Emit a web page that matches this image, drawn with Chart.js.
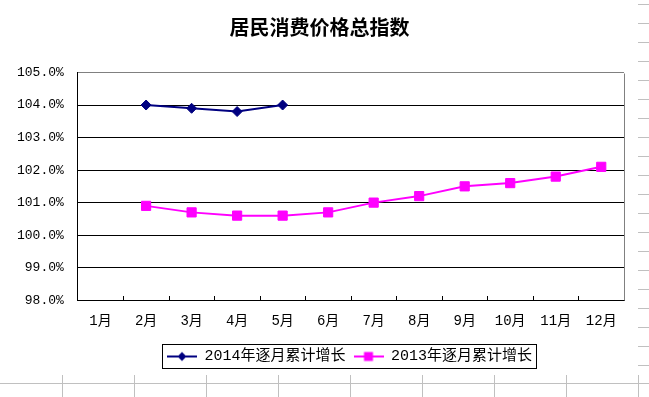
<!DOCTYPE html>
<html><head><meta charset="utf-8">
<script src="https://cdn.jsdelivr.net/npm/chart.js@4"></script>
<style>
html,body{margin:0;padding:0;background:#fff;}
#sheet{position:relative;width:649px;height:397px;overflow:hidden;background:#fff;}
.h{position:absolute;height:1px;background:#c0c0c0;}
.v{position:absolute;width:1px;background:#c0c0c0;}
#wrap{position:absolute;left:0;top:0;width:637px;height:375px;background:#fff;}
canvas{display:block;}
</style></head>
<body><div id="sheet"><div id="wrap"><canvas id="c" width="637" height="375"></canvas></div></div>
<script>
// ---- data ----
const titleText = '居民消费价格总指数';
const months = ['1月','2月','3月','4月','5月','6月','7月','8月','9月','10月','11月','12月'];
const label2014 = '2014年逐月累计增长';
const values2014 = [null, 104.0, 103.9, 103.8, 104.0, null, null, null, null, null, null, null];
const label2013 = '2013年逐月累计增长';
const values2013 = [null, 100.9, 100.7, 100.6, 100.6, 100.7, 101.0, 101.2, 101.5, 101.6, 101.8, 102.1];
const yMin = 98, yMax = 105, yStep = 1;

// ---- spreadsheet cell grid behind chart ----
const sheet = document.getElementById('sheet');
function addLine(cls, x, y, w, h) {
  const d = document.createElement('div');
  d.className = cls;
  d.style.left = x + 'px'; d.style.top = y + 'px';
  if (w) d.style.width = w + 'px';
  if (h) d.style.height = h + 'px';
  sheet.insertBefore(d, sheet.firstChild);
}
for (let y = 4; y < 375; y += 19) addLine('h', 638, y, 11, 0);
addLine('h', 0, 383, 649, 0);
for (let x = 62; x < 649; x += 72) addLine('v', x, 375, 0, 22);

// ---- legend symbols ----
function legendSymbol(color, shape) {
  const c = document.createElement('canvas');
  c.width = 30; c.height = 12;
  const g = c.getContext('2d');
  g.strokeStyle = color; g.lineWidth = 2;
  g.beginPath(); g.moveTo(0, 6); g.lineTo(30, 6); g.stroke();
  g.fillStyle = color;
  g.beginPath();
  if (shape === 'diamond') {
    g.moveTo(15, 1.5); g.lineTo(19.5, 6); g.lineTo(15, 10.5); g.lineTo(10.5, 6); g.closePath();
  } else {
    g.rect(10.5, 1.5, 9, 9);
  }
  g.fill();
  return c;
}
const sym2014 = legendSymbol('#000080', 'diamond');
const sym2013 = legendSymbol('#FF00FF', 'square');

const monoFont = "'Liberation Mono','Noto Sans CJK SC',monospace";
const legendShift = 36;
const titleShift = 6;

const framePlugin = {
  id: 'frame',
  afterUpdate(chart) {
    const lg = chart.legend;
    if (lg) {
      lg.left += legendShift; lg.right += legendShift;
      (lg.legendHitBoxes || []).forEach(h => { h.left += legendShift; });
    }
    const tb = chart.titleBlock;
    if (tb) { tb.left += titleShift; tb.right += titleShift; }
  },
  afterDatasetsDraw(chart) {
    const ctx = chart.ctx, a = chart.chartArea, xs = chart.scales.x;
    ctx.save();
    ctx.strokeStyle = '#808080'; ctx.lineWidth = 1;
    ctx.beginPath();
    const rx = Math.round(a.right) + 0.5;
    ctx.moveTo(rx, Math.round(a.top) + 0.5); ctx.lineTo(rx, Math.round(a.bottom) + 0.5);
    ctx.stroke();
    ctx.strokeStyle = '#000';
    const half = (xs.getPixelForValue(1) - xs.getPixelForValue(0)) / 2;
    ctx.beginPath();
    for (let i = 1; i < months.length; i++) {
      const x = Math.round(xs.getPixelForValue(i) - half) + 0.5;
      ctx.moveTo(x, Math.round(a.bottom)); ctx.lineTo(x, Math.round(a.bottom) - 4);
    }
    ctx.stroke();
    ctx.restore();
  },
  afterDraw(chart) {
    const lg = chart.legend;
    if (!lg || !lg.legendHitBoxes || !lg.legendHitBoxes.length) return;
    const hb = lg.legendHitBoxes;
    let l = Infinity, r = -Infinity, t = Infinity, b = -Infinity;
    hb.forEach(h => { l = Math.min(l, h.left); r = Math.max(r, h.left + h.width); t = Math.min(t, h.top); b = Math.max(b, h.top + h.height); });
    const ctx = chart.ctx;
    ctx.save();
    ctx.strokeStyle = '#000'; ctx.lineWidth = 1;
    ctx.strokeRect(Math.round(l - 5) + 0.5, Math.round(t - 5) + 0.5, Math.round(r - l + 9), Math.round(b - t + 9));
    ctx.restore();
  }
};

new Chart(document.getElementById('c'), {
  type: 'line',
  data: {
    labels: months,
    datasets: [
      { label: label2014, data: values2014, borderColor: '#000080', backgroundColor: '#000080',
        pointStyle: 'rectRot', pointRadius: 5, pointBorderWidth: 1, borderWidth: 2, tension: 0 },
      { label: label2013, data: values2013, borderColor: '#FF00FF', backgroundColor: '#FF00FF',
        pointStyle: 'rect', pointRadius: 6.5, pointBorderWidth: 1, borderWidth: 2, tension: 0 }
    ]
  },
  options: {
    responsive: false, animation: false, devicePixelRatio: 1,
    layout: { padding: { left: 3, right: 13, top: 0, bottom: 1 } },
    plugins: {
      title: { display: true, text: titleText, color: '#000',
        font: { family: "'Noto Sans CJK SC'", size: 20, weight: 'bold', lineHeight: 1.2 },
        padding: { top: 15, bottom: 33.5 } },
      legend: { position: 'bottom',
        labels: { color: '#000', font: { family: monoFont, size: 15 }, usePointStyle: true,
          pointStyleWidth: 30, boxHeight: 12, padding: 8,
          generateLabels(chart) {
            const items = Chart.defaults.plugins.legend.labels.generateLabels(chart);
            items.forEach((it, i) => { it.pointStyle = i === 0 ? sym2014 : sym2013; });
            return items;
          } } },
      tooltip: { enabled: false }
    },
    scales: {
      x: { offset: true,
        grid: { offset: true, drawOnChartArea: false, drawTicks: false },
        border: { color: '#000', width: 1 },
        ticks: { color: '#000', padding: 13, font: { family: monoFont, size: 14 } },
        afterFit(scale) { scale.height -= 2; } },
      y: { min: yMin, max: yMax,
        ticks: { stepSize: yStep, color: '#000', padding: 14, font: { family: monoFont, size: 13 },
          callback: v => v.toFixed(1) + '%' },
        grid: { drawTicks: false, color: c => (c.tick && c.tick.value === yMax) ? '#808080' : '#000', lineWidth: 1 },
        border: { color: '#000', width: 1 } }
    }
  },
  plugins: [framePlugin]
});
</script>
</body></html>
